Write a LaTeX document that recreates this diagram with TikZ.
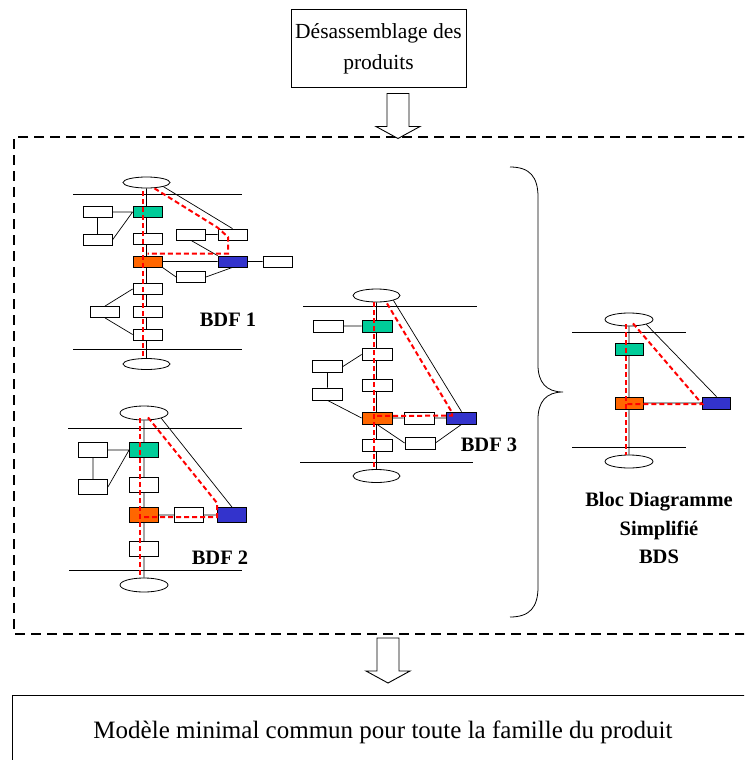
\documentclass[tikz,border=0pt]{standalone}
\usepackage{fontspec}
\setmainfont{Liberation Serif}
\usetikzlibrary{shapes.geometric,calc,backgrounds}
\definecolor{grn}{RGB}{0,204,153}
\definecolor{org}{RGB}{255,102,0}
\definecolor{blu}{RGB}{51,51,204}
\tikzset{
  box/.style={draw,fill=white,inner sep=0pt,line width=0.8pt,minimum width=29pt,minimum height=11pt},
  greenbox/.style={box,fill=grn},
  orangebox/.style={box,fill=org},
  bluebox/.style={box,fill=blu},
  ell/.style={draw,fill=white,ellipse,inner sep=0pt,line width=0.8pt,minimum width=47pt,minimum height=11pt},
  ln/.style={line width=0.7pt},
  bus/.style={line width=1pt},
  flow/.style={draw=red,line width=2pt,dash pattern=on 5pt off 3pt},
  lab/.style={font=\fontsize{20.5}{28.5}\selectfont\bfseries,inner sep=0pt},
  blockarrow/.pic={\draw[line width=0.9pt,fill=white] (-11,0) -- (-11,33) -- (-22,33) -- (0,45) -- (22,33) -- (11,33) -- (11,0) -- cycle;}
}
\begin{document}
\begin{tikzpicture}[x=1pt,y=-1pt]
\useasboundingbox (0,0) rectangle (744,760);
\clip (0,0) rectangle (744,760);

\node[draw,line width=1pt,minimum width=175pt,minimum height=77pt,align=center,font=\fontsize{21.5}{31}\selectfont] (ttl) at (378.5,48.5) {Désassemblage des\\produits};
\draw[line width=2.6pt,dash pattern=on 10pt off 6pt] (780,137) -- (14,137) -- (14,634) -- (780,634);
\pic at ($(ttl.south)+(19.5,6)$) {blockarrow};

% BDF 1
\node[ell] (a-top) at (146.5,182.5) {};
\node[ell] (a-bot) at (146.5,364) {};
\node[greenbox] (a-g) at (147.5,212) {};
\node[box] (a-w1) at (147.5,239) {};
\node[orangebox] (a-o) at (147.5,261.5) {};
\node[box] (a-w2) at (147.5,289) {};
\node[box] (a-w3) at (147.5,312) {};
\node[box] (a-w4) at (147.5,334.5) {};
\node[box] (a-l1) at (97.5,212) {};
\node[box] (a-l2) at (97.5,240) {};
\node[box] (a-l3) at (105,312) {};
\node[box] (a-r1) at (191,234.5) {};
\node[box] (a-r2) at (232.5,234.5) {};
\node[bluebox] (a-b) at (232.5,261.5) {};
\node[box] (a-r3) at (277.5,261.5) {};
\node[box] (a-r4) at (191,277) {};
\node[lab] (a-lab) at (228,320) {BDF 1};
\begin{scope}[on background layer]
\draw[bus] (73,194) -- (242,194) (73,349) -- (242,349);
\draw[ln] (a-top) -- (a-bot) (a-l1) -- (a-g) (a-l1) -- (a-l2) (a-l2.east) -- (a-g.west)
  (a-l3.north) -- (a-w2.west) (a-l3.south) -- (a-w4.west) (a-o) -- (a-b) -- (a-r3)
  (a-r1) -- (a-r2) (a-top.south east) -- (a-r2.north) (a-r1.south) -- (a-b.north west)
  (a-o.south east) -- (a-r4.west) (a-r4.east) -- (a-b.south);
\end{scope}
\draw[flow] ($(a-top.south)+(-3.5,3)$) -- ($(a-bot.north)+(-3.5,-1)$);
\draw[flow] ($(a-top.south)+(8,0)$) -- ($(a-r2.north west)+(0,-1)$) -- ($(a-r2.center)+(-4.5,2.5)$)
  -- ($(a-b.north)+(-4.5,-2)$) -- ($(a-o.north)+(0,-2)$);

% BDF 2
\begin{scope}[box/.append style={minimum height=15pt},ell/.append style={minimum width=48pt,minimum height=14pt}]
\node[ell] (b-top) at (144,413) {};
\node[ell] (b-bot) at (144,585) {};
\node[greenbox] (b-g) at (144,450) {};
\node[box] (b-w1) at (144,485) {};
\node[orangebox] (b-o) at (144,515) {};
\node[box] (b-w2) at (144,549) {};
\node[box] (b-l1) at (93,450) {};
\node[box] (b-l2) at (93,487) {};
\node[box] (b-m) at (189,515) {};
\node[bluebox] (b-b) at (232,515) {};
\node[lab] (b-lab) at (220,558) {BDF 2};
\begin{scope}[on background layer]
\draw[bus] (68,428) -- (242,428) (69,570) -- (242,570);
\draw[ln] (b-top) -- (b-bot) (b-l1) -- (b-g) (b-l1) -- (b-l2) (b-l2.east) -- (b-g.west)
  (b-o) -- (b-m) -- (b-b) (b-top.south east) -- (b-b.north);
\end{scope}
\draw[flow] ($(b-top.south)+(-4,-2)$) -- ($(b-bot.north)+(-4,0)$);
\draw[flow] ($(b-top.south)+(4,-3)$) -- ($(b-b.north west)+(0,-4)$) -- ($(b-b.west)+(0,2)$) -- ($(b-o.center)+(-2,2)$);
\end{scope}

% BDF 3
\begin{scope}[box/.append style={minimum width=30pt,minimum height=12pt},ell/.append style={minimum height=13pt}]
\node[ell] (c-top) at (376.5,295.5) {};
\node[ell] (c-bot) at (376.5,476) {};
\node[greenbox] (c-g) at (377,326) {};
\node[box] (c-w1) at (377,354.5) {};
\node[box] (c-w2) at (377,385) {};
\node[orangebox] (c-o) at (377,418) {};
\node[box] (c-w3) at (377,445) {};
\node[box] (c-l1) at (328.5,326) {};
\node[box] (c-l2) at (327.5,366.5) {};
\node[box] (c-l3) at (327.5,394) {};
\node[box] (c-m) at (419,418) {};
\node[bluebox] (c-b) at (461.5,418) {};
\node[box] (c-r) at (420,443) {};
\node[lab] (c-lab) at (489,445) {BDF 3};
\begin{scope}[on background layer]
\draw[bus] (303,306) -- (477,306) (300,462) -- (473,462);
\draw[ln] (c-top) -- (c-bot) (c-l1) -- (c-g) (c-l2) -- (c-l3) (c-l2.east) -- (c-w1.west)
  (c-l3.south) -- (c-o.west) (c-o) -- (c-m) -- (c-b) (c-o.south) -- (c-r.west)
  (c-r.east) -- (c-b.south) (c-top.south east) -- (c-b.north);
\end{scope}
\draw[flow] ($(c-top.south)+(-2.5,0)$) -- ($(c-bot.north)+(-2.5,0)$);
\draw[flow] ($(c-top.south)+(10.5,1)$) -- ($(c-b.north west)+(6,1)$) -- ($(c-b.north west)+(6,4)$) -- ($(c-o.center)+(-1,-2)$);
\end{scope}

\draw[line width=0.8pt] (510,167) .. controls (530,167) and (538,177) .. (538,197) -- (538,365)
  .. controls (538,382) and (546,392) .. (563,392) .. controls (546,392) and (538,402) .. (538,419)
  -- (538,587) .. controls (538,607) and (530,617) .. (510,617);

% BDS
\begin{scope}[box/.append style={minimum width=28pt,minimum height=12pt},ell/.append style={minimum width=48pt,minimum height=13pt}]
\node[ell] (d-top) at (629,319.5) {};
\node[ell] (d-bot) at (629,461.5) {};
\node[greenbox] (d-g) at (629,349) {};
\node[orangebox] (d-o) at (629,403) {};
\node[bluebox] (d-b) at (716.5,403) {};
\node[lab,align=center] (d-lab) at (659,528) {Bloc Diagramme\\Simplifié\\BDS};
\begin{scope}[on background layer]
\draw[bus] (572,332) -- (686,332) (572,447) -- (686,447);
\draw[ln] (d-top) -- (d-bot) (d-o) -- (d-b) (d-top.south east) -- (d-b.north);
\end{scope}
\draw[flow] ($(d-top.south)+(-3,-2)$) -- ($(d-bot.north)+(-3,0)$);
\draw[flow] ($(d-top.south)+(4,-3)$) -- ($(d-b.west)+(0,1)$) -- ($(d-o.center)+(-3,1)$);
\end{scope}

\pic at (388,638) {blockarrow};
\node[font=\fontsize{25}{30}\selectfont] (mdl) at (383,732) {Modèle minimal commun pour toute la famille du produit};
\draw[line width=1pt] (12,780) -- (12,695) -- (780,695);
\end{tikzpicture}
\end{document}
